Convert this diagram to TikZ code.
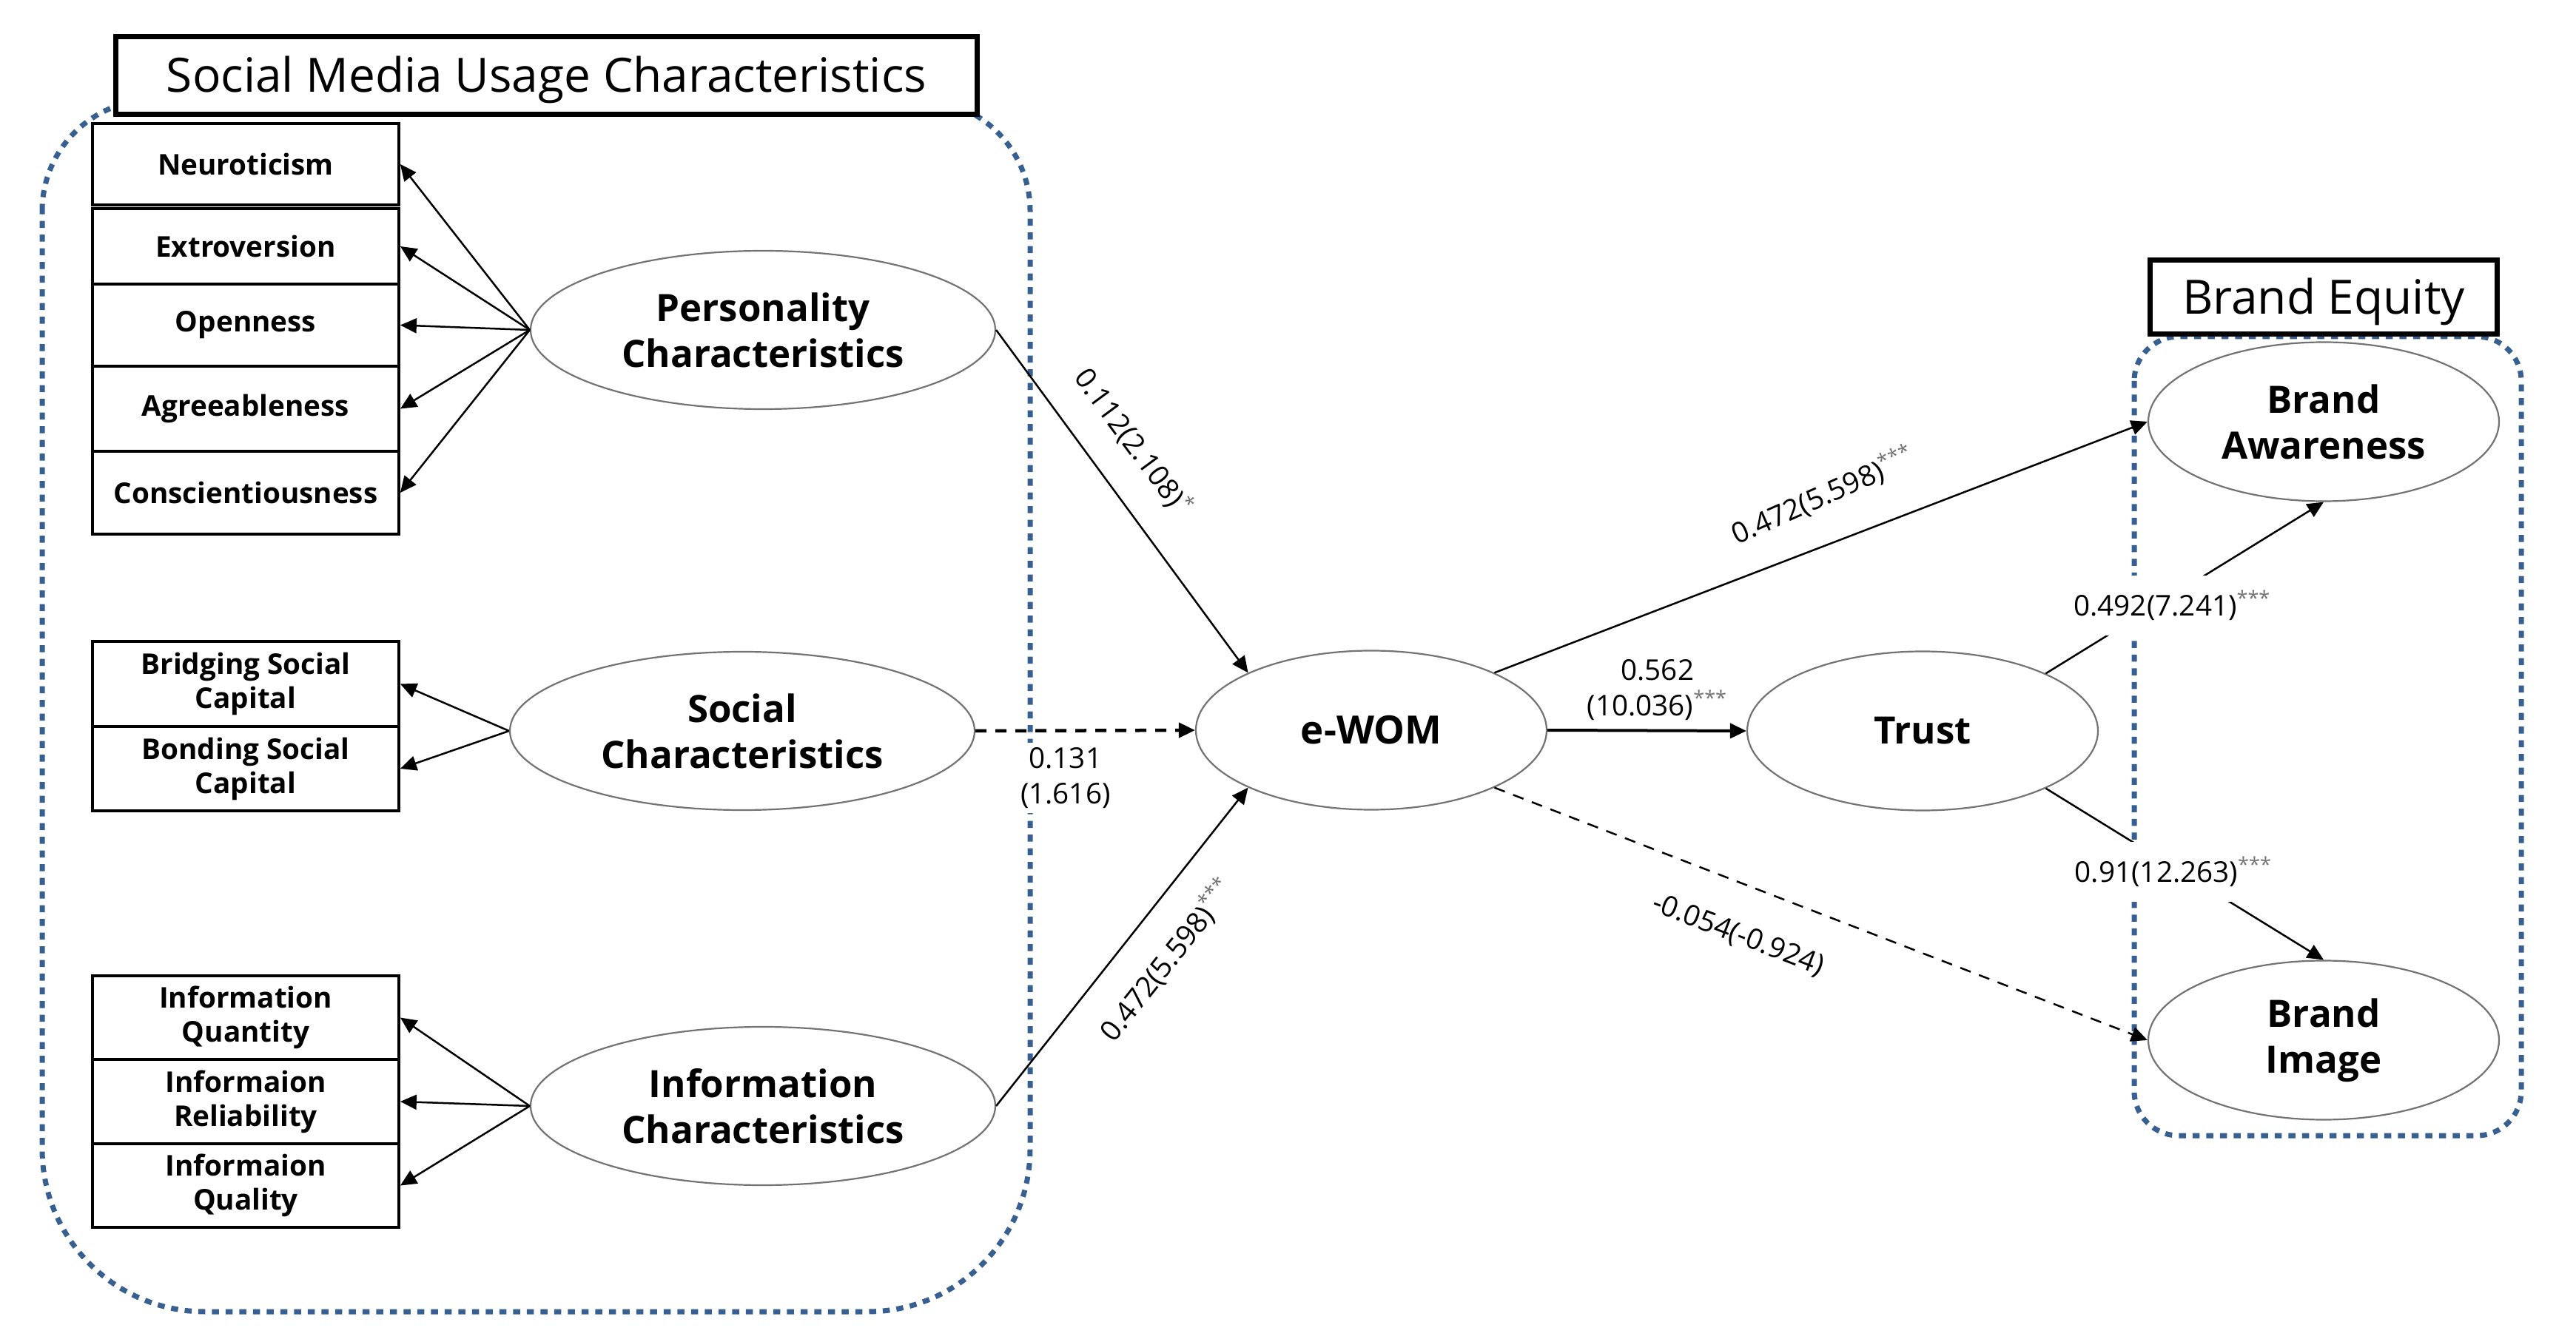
\documentclass[tikz,border=0pt]{standalone}
\usepackage{fontspec}
\setmainfont{Open Sans}
\usetikzlibrary{shapes.geometric,arrows.meta}
\definecolor{dotblue}{RGB}{55,95,145}
\newcommand\mysig[1]{\textsuperscript{\textcolor{black!55}{#1}}}
\begin{document}
\begin{tikzpicture}[x=1cm,y=1cm,
 ind/.style={draw, fill=white, line width=0.038cm, minimum width=4.14cm, inner sep=0pt, align=center, font=\fontsize{11}{13.1}\selectfont\bfseries},
 lat/.style={ellipse, draw=black!55, fill=white, line width=0.022cm, inner sep=0pt, align=center, font=\fontsize{14.5}{17.6}\selectfont\bfseries},
 latw/.style={lat, minimum width=6.28cm, minimum height=2.14cm},
 latn/.style={lat, minimum width=4.74cm, minimum height=2.15cm},
 con/.style={line width=0.025cm, -{Triangle[length=0.22cm,width=0.2cm]}},
 dsh/.style={dash pattern=on 0.15cm off 0.12cm},
 lbl/.style={fill=white, inner sep=0.06cm, align=center, font=\fontsize{11}{13.7}\selectfont},
 rlbl/.style={inner sep=0.02cm, font=\fontsize{11}{13.7}\selectfont},
 titlebox/.style={draw, fill=white, line width=0.075cm, inner sep=0pt, text height=0.46cm, text depth=0pt, font=\fontsize{18.2}{22}\selectfont},
 bluedot/.style={draw=dotblue, line width=0.07cm, dash pattern=on 0.095cm off 0.09cm}
]
\useasboundingbox (0,0) rectangle (34.81,-18.14);

% dotted group frames
\draw[bluedot] (0.57,-2.85) arc[start angle=180,end angle=90,radius=1.5] -- (12.42,-1.35)
  arc[start angle=90,end angle=0,radius=1.5] -- (13.92,-15.53)
  arc[start angle=0,end angle=-90,radius=2.2] -- (2.77,-17.73)
  arc[start angle=270,end angle=180,radius=2.2] -- cycle;
\draw[bluedot, rounded corners=0.6cm] (28.84,-4.55) rectangle (34.07,-15.35);

% group titles
\node[titlebox, minimum width=11.64cm, minimum height=1.05cm] (smu) at (7.385,-1.02) {Social Media Usage Characteristics};
\node[titlebox, minimum width=4.69cm, minimum height=1.0cm] (beq) at (31.40,-4.015) {Brand Equity};

% indicators
\node[ind, minimum height=1.10cm] (neu) at (3.32,-2.22) {Neuroticism};
\node[ind, minimum height=1.02cm] (ext) at (3.32,-3.33) {Extroversion};
\node[ind, minimum height=1.11cm] (ope) at (3.32,-4.395) {Openness};
\node[ind, minimum height=1.15cm] (agr) at (3.32,-5.525) {Agreeableness};
\node[ind, minimum height=1.12cm] (con) at (3.32,-6.66) {Conscientiousness};
\node[ind, minimum height=1.15cm] (bri) at (3.32,-9.245) {Bridging Social\\Capital};
\node[ind, minimum height=1.14cm] (bon) at (3.32,-10.39) {Bonding Social\\Capital};
\node[ind, minimum height=1.13cm] (iq) at (3.32,-13.755) {Information\\Quantity};
\node[ind, minimum height=1.14cm] (ir) at (3.32,-14.89) {Informaion\\Reliability};
\node[ind, minimum height=1.13cm] (iql) at (3.32,-16.025) {Informaion\\Quality};

% latent constructs
\node[latw] (pers) at (10.31,-4.46) {Personality\\Characteristics};
\node[latw] (soc) at (10.03,-9.88) {Social\\Characteristics};
\node[latw] (info) at (10.31,-14.95) {Information\\Characteristics};
\node[latn, font=\fontsize{15}{18}\selectfont\bfseries] (ewom) at (18.53,-9.87) {e-WOM};
\node[latn] (trust) at (25.98,-9.88) {Trust};
\node[latn] (ba) at (31.40,-5.70) {Brand\\Awareness};
\node[latn] (bi) at (31.40,-14.06) {Brand\\Image};

% measurement arrows
\foreach \t in {neu,ext,ope,agr,con} \draw[con] (pers.west) -- (\t.east);
\foreach \t in {bri,bon} \draw[con] (soc.west) -- (\t.east);
\foreach \t in {iq,ir,iql} \draw[con] (info.west) -- (\t.east);

% structural paths
\draw[con] (pers.east) -- node[rlbl, pos=0.4, xshift=0.5cm, yshift=0.34cm, rotate=-53.5] {0.112(2.108)\mysig{*}} (ewom.155);
\draw[con, dsh, line width=0.045cm] (soc.east) -- node[lbl, pos=0.41, yshift=-0.64cm] {0.131\\(1.616)} (ewom.west);
\draw[con] (info.east) -- node[rlbl, pos=0.55, xshift=0.44cm, yshift=-0.39cm, rotate=51.5] {0.472(5.598)\mysig{***}} (ewom.205);
\draw[con] (ewom.25) -- node[rlbl, pos=0.527, xshift=-0.21cm, yshift=0.61cm, rotate=24] {0.472(5.598)\mysig{***}} (ba.west);
\draw[con, line width=0.04cm] (ewom.east) -- node[lbl, fill=none, pos=0.553, yshift=0.55cm] {0.562\\(10.036)\mysig{***}} (trust.west);
\draw[con, dsh] (ewom.-25) -- node[rlbl, pos=0.4, xshift=-0.24cm, yshift=-0.63cm, rotate=-21] {-0.054(-0.924)} (bi.west);
\draw[con] (trust.25) -- node[lbl, pos=0.44, xshift=0.06cm, yshift=-0.1cm, inner xsep=0.33cm, inner ysep=0.2cm] {0.492(7.241)\mysig{***}} (ba.south);
\draw[con] (trust.-25) -- node[lbl, pos=0.46, yshift=-0.06cm, inner xsep=0.33cm, inner ysep=0.2cm] {0.91(12.263)\mysig{***}} (bi.north);
\end{tikzpicture}
\end{document}
